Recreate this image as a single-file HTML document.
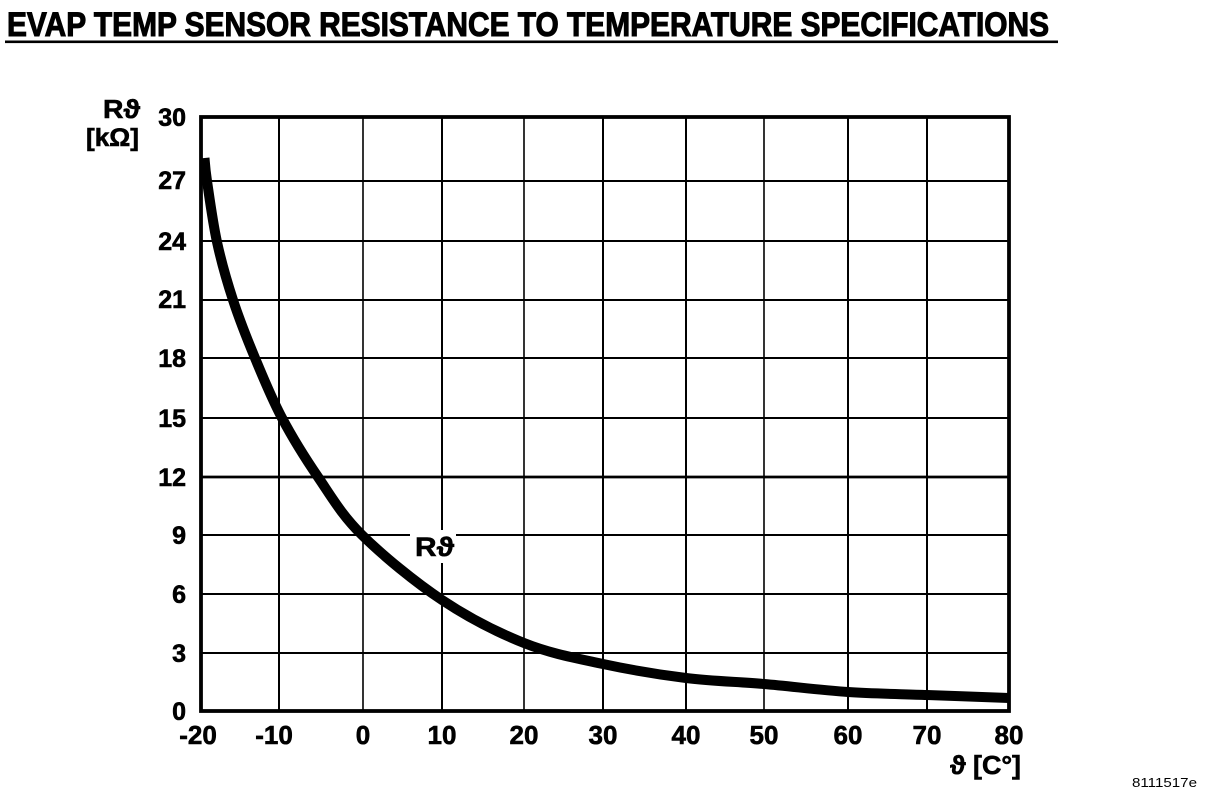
<!DOCTYPE html>
<html>
<head>
<meta charset="utf-8">
<style>
html,body{margin:0;padding:0;background:#fff;}
body{width:1216px;height:802px;overflow:hidden;}
svg{display:block;}
text{font-family:"Liberation Sans","DejaVu Sans",sans-serif;font-weight:bold;fill:#000;}
.h{stroke:#000;stroke-width:0.6;}
</style>
</head>
<body>
<svg width="1216" height="802" viewBox="0 0 1216 802" xmlns="http://www.w3.org/2000/svg">
  <rect x="0" y="0" width="1216" height="802" fill="#fff"/>
  <!-- Title -->
  <text x="7" y="36" font-size="34" textLength="1042" lengthAdjust="spacingAndGlyphs" stroke="#000" stroke-width="1.1">EVAP TEMP SENSOR RESISTANCE TO TEMPERATURE SPECIFICATIONS</text>
  <rect x="5" y="40.5" width="1053" height="2.6" fill="#000"/>

  <!-- Grid -->
  <g stroke="#000" stroke-width="2" fill="none">
    <line x1="201" y1="181" x2="1009" y2="181"/>
    <line x1="201" y1="241" x2="1009" y2="241"/>
    <line x1="201" y1="300" x2="1009" y2="300"/>
    <line x1="201" y1="358" x2="1009" y2="358"/>
    <line x1="201" y1="418" x2="1009" y2="418"/>
    <line x1="201" y1="477" x2="1009" y2="477" stroke-width="2.8"/>
    <line x1="201" y1="535" x2="1009" y2="535"/>
    <line x1="201" y1="594" x2="1009" y2="594"/>
    <line x1="201" y1="653" x2="1009" y2="653"/>

    <line x1="279" y1="117" x2="279" y2="711"/>
    <line x1="363" y1="117" x2="363" y2="711" stroke-width="1.6"/>
    <line x1="442" y1="117" x2="442" y2="711"/>
    <line x1="524" y1="117" x2="524" y2="711" stroke-width="1.6"/>
    <line x1="603" y1="117" x2="603" y2="711"/>
    <line x1="686" y1="117" x2="686" y2="711"/>
    <line x1="764" y1="117" x2="764" y2="711" stroke-width="1.6"/>
    <line x1="848" y1="117" x2="848" y2="711"/>
    <line x1="927" y1="117" x2="927" y2="711"/>
  </g>

  <!-- Curve label background -->
  <rect x="410" y="530" width="46" height="33" fill="#fff"/>

  <!-- Frame -->
  <rect x="201" y="117" width="808" height="594" fill="none" stroke="#000" stroke-width="3.8"/>

  <!-- Curve -->
  <path d="M204.5,158
    C204.9,161.8 204.9,167 207,181
    C209.1,195 212.7,222.2 217,242
    C221.3,261.8 226.7,280.7 233,300
    C239.3,319.3 246.8,338.3 255,358
    C263.2,377.7 271.5,398.2 282,418
    C292.5,437.8 304.7,457.5 318,477
    C331.3,496.5 341.3,514.5 362,535
    C382.7,555.5 415,582 442,600
    C469,618 497.2,632.3 524,643
    C550.8,653.7 576,658.2 603,664
    C630,669.8 659.2,674.7 686,678
    C712.8,681.3 737,681.7 764,684
    C791,686.3 820.8,690.2 848,692
    C875.2,693.8 900.2,694 927,695
    C953.8,696 995.3,697.5 1009,698"
    fill="none" stroke="#000" stroke-width="10" stroke-linecap="butt" stroke-linejoin="round"/>

  <!-- Curve label -->
  <text class="h" x="415" y="556" font-size="27" textLength="39" lengthAdjust="spacingAndGlyphs">Rϑ</text>

  <!-- Y tick labels -->
  <g font-size="25" text-anchor="end" class="h">
    <text x="186" y="126">30</text>
    <text x="186" y="189">27</text>
    <text x="186" y="250">24</text>
    <text x="186" y="308">21</text>
    <text x="186" y="367">18</text>
    <text x="186" y="427">15</text>
    <text x="186" y="486">12</text>
    <text x="186" y="544">9</text>
    <text x="186" y="603">6</text>
    <text x="186" y="662">3</text>
    <text x="186" y="720">0</text>
  </g>

  <!-- Y axis unit -->
  <text class="h" x="103" y="118" font-size="26" textLength="37" lengthAdjust="spacingAndGlyphs">Rϑ</text>
  <text class="h" x="86" y="146" font-size="25" textLength="53" lengthAdjust="spacingAndGlyphs">[kΩ]</text>

  <!-- X tick labels -->
  <g font-size="26" text-anchor="middle" class="h">
    <text x="198" y="744">-20</text>
    <text x="274" y="744">-10</text>
    <text x="363" y="744">0</text>
    <text x="442" y="744">10</text>
    <text x="524" y="744">20</text>
    <text x="603" y="744">30</text>
    <text x="686" y="744">40</text>
    <text x="764" y="744">50</text>
    <text x="848" y="744">60</text>
    <text x="927" y="744">70</text>
    <text x="1009" y="744">80</text>
  </g>

  <!-- X axis unit -->
  <text class="h" x="950" y="774" font-size="26" textLength="71" lengthAdjust="spacingAndGlyphs">ϑ [C°]</text>

  <!-- Figure id -->
  <text x="1132" y="787" font-size="13" style="font-weight:normal" textLength="65" lengthAdjust="spacingAndGlyphs">8111517e</text>
</svg>
</body>
</html>
